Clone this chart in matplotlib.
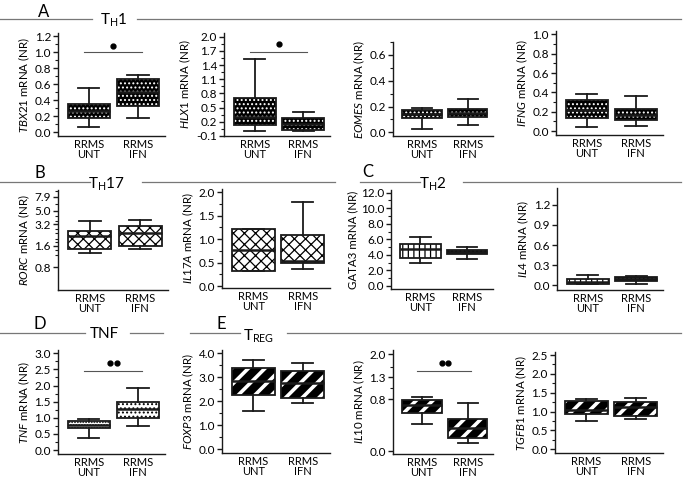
import numpy as np
import matplotlib
matplotlib.use('Agg')
import matplotlib.pyplot as plt
from matplotlib.lines import Line2D
from matplotlib.ticker import FixedLocator, FormatStrFormatter, NullFormatter

plt.rcParams['font.family'] = ['Lato', 'DejaVu Sans']
plt.rcParams['mathtext.fontset'] = 'custom'
plt.rcParams['mathtext.rm'] = 'Lato'
plt.rcParams['mathtext.it'] = 'Lato:italic'

W, H = 683, 479

groups = ['RRMS\nUNT', 'RRMS\nIFN']
genes = ['TBX21', 'HLX1', 'EOMES', 'IFNG', 'RORC', 'IL17A',
         'GATA3', 'IL4', 'TNF', 'FOXP3', 'IL10', 'TGFB1']

# [whisker low, Q1, median, Q3, whisker high]
TBX21_UNT = [0.06, 0.18, 0.26, 0.35, 0.55]
TBX21_IFN = [0.17, 0.33, 0.50, 0.66, 0.72]
HLX1_UNT = [0.01, 0.13, 0.30, 0.71, 1.54]
HLX1_IFN = [0.01, 0.03, 0.15, 0.29, 0.41]
EOMES_UNT = [0.03, 0.11, 0.14, 0.17, 0.19]
EOMES_IFN = [0.06, 0.12, 0.15, 0.18, 0.26]
IFNG_UNT = [0.04, 0.14, 0.22, 0.32, 0.38]
IFNG_IFN = [0.055, 0.12, 0.17, 0.23, 0.365]
RORC_UNT = [1.25, 1.45, 2.2, 2.6, 3.6]
RORC_IFN = [1.45, 1.6, 2.4, 3.0, 3.7]
IL17A_UNT = [0.33, 0.33, 0.78, 1.22, 1.22]
IL17A_IFN = [0.36, 0.50, 0.53, 1.09, 1.80]
GATA3_UNT = [3.0, 3.64, 4.8, 5.36, 6.26]
GATA3_IFN = [3.43, 4.07, 4.37, 4.63, 4.97]
IL4_UNT = [0.015, 0.025, 0.054, 0.089, 0.153]
IL4_IFN = [0.025, 0.064, 0.094, 0.123, 0.133]
TNF_UNT = [0.36, 0.67, 0.78, 0.91, 0.96]
TNF_IFN = [0.755, 1.01, 1.26, 1.50, 1.91]
FOXP3_UNT = [1.60, 2.26, 2.86, 3.40, 3.72]
FOXP3_IFN = [1.92, 2.125, 2.75, 3.26, 3.58]
IL10_UNT = [0.36, 0.54, 0.68, 0.78, 0.85]
IL10_IFN = [0.095, 0.16, 0.30, 0.44, 0.73]
TGFB1_UNT = [0.75, 0.93, 1.04, 1.29, 1.325]
TGFB1_IFN = [0.795, 0.89, 1.11, 1.26, 1.37]

DATA = {
    'TBX21': (TBX21_UNT, TBX21_IFN), 'HLX1': (HLX1_UNT, HLX1_IFN),
    'EOMES': (EOMES_UNT, EOMES_IFN), 'IFNG': (IFNG_UNT, IFNG_IFN),
    'RORC': (RORC_UNT, RORC_IFN), 'IL17A': (IL17A_UNT, IL17A_IFN),
    'GATA3': (GATA3_UNT, GATA3_IFN), 'IL4': (IL4_UNT, IL4_IFN),
    'TNF': (TNF_UNT, TNF_IFN), 'FOXP3': (FOXP3_UNT, FOXP3_IFN),
    'IL10': (IL10_UNT, IL10_IFN), 'TGFB1': (TGFB1_UNT, TGFB1_IFN),
}

# y tick labels
TBX21_TICKS = [0.0, 0.2, 0.4, 0.6, 0.8, 1.0, 1.2]
HLX1_TICKS = [-0.1, 0.2, 0.5, 0.8, 1.1, 1.4, 1.7, 2.0]
EOMES_TICKS = [0.0, 0.2, 0.4, 0.6]
IFNG_TICKS = [0.0, 0.2, 0.4, 0.6, 0.8, 1.0]
RORC_TICKS = [0.8, 1.6, 3.2, 5.0, 7.9]
IL17A_TICKS = [0.0, 0.5, 1.0, 1.5, 2.0]
GATA3_TICKS = [0.0, 2.0, 4.0, 6.0, 8.0, 10.0, 12.0]
IL4_TICKS = [0.0, 0.3, 0.6, 0.9, 1.2]
TNF_TICKS = [0.0, 0.5, 1.0, 1.5, 2.0, 2.5, 3.0]
FOXP3_TICKS = [0.0, 1.0, 2.0, 3.0, 4.0]
IL10_TICKS = [0.0, 0.8, 1.3, 2.0]
TGFB1_TICKS = [0.0, 0.5, 1.0, 1.5, 2.0, 2.5]

TICKS = {'TBX21': TBX21_TICKS, 'HLX1': HLX1_TICKS, 'EOMES': EOMES_TICKS,
         'IFNG': IFNG_TICKS, 'RORC': RORC_TICKS, 'IL17A': IL17A_TICKS,
         'GATA3': GATA3_TICKS, 'IL4': IL4_TICKS, 'TNF': TNF_TICKS,
         'FOXP3': FOXP3_TICKS, 'IL10': IL10_TICKS, 'TGFB1': TGFB1_TICKS}

MINOR = {
    'TBX21': np.arange(0.1, 1.25, 0.2), 'HLX1': np.arange(0.05, 2.0, 0.3),
    'EOMES': [0.1, 0.3, 0.5, 0.7], 'IFNG': np.arange(0.1, 1.0, 0.2),
    'RORC': [1.2, 1.4, 1.8, 2.0, 2.4, 2.8, 3.6, 4.2, 6.3, 9.5],
    'IL17A': [0.25, 0.75, 1.25, 1.75], 'GATA3': np.arange(1, 12, 2),
    'IL4': [], 'TNF': np.arange(0.25, 3.0, 0.5), 'FOXP3': np.arange(0.5, 4.0, 1.0),
    'IL10': [1.05, 1.6], 'TGFB1': np.arange(0.25, 2.5, 0.5),
}

# panel layout in pixels: x0, x1, ytop, ybottom, ylim
LAYOUT = {
    'TBX21': (58, 165, 33, 136, (-0.05, 1.24)),
    'HLX1': (224, 330, 33, 136, (-0.1, 2.08)),
    'EOMES': (393, 493, 42, 136, (-0.028, 0.70)),
    'IFNG': (556, 663, 31, 135, (-0.04, 1.034)),
    'RORC': (58, 168, 190, 290, (0.38, 9.8)),
    'IL17A': (222, 330, 189, 288, (-0.04, 2.07)),
    'GATA3': (391, 493, 190, 289, (-0.4, 12.35)),
    'IL4': (557, 663, 188, 290, (-0.07, 1.45)),
    'TNF': (58, 165, 350, 454, (-0.12, 3.1)),
    'FOXP3': (222, 330, 350, 453, (-0.15, 4.14)),
    'IL10': (393, 493, 350, 454, (-0.0334, 2.14)),
    'TGFB1': (555, 663, 352, 453, (-0.1, 2.58)),
}

# box styles: (face, hatch, hatch colour) for UNT, IFN
DOTS_B = ('black', '....', 'white')
STYLE = {
    'TBX21': (DOTS_B, DOTS_B), 'HLX1': (DOTS_B, DOTS_B),
    'EOMES': (DOTS_B, DOTS_B), 'IFNG': (DOTS_B, DOTS_B),
    'RORC': (('white', 'xxx', 'black'), ('white', 'xxx', 'black')),
    'IL17A': (('white', 'xxx', 'black'), ('white', 'xxx', 'black')),
    'GATA3': (('white', '|||', 'black'), ('#444444', '++++', 'black')),
    'IL4': (('white', '|||', 'black'), ('#444444', '++++', 'black')),
    'TNF': (('white', '......', 'black'), ('white', '....', 'black')),
    'FOXP3': (('black', '//', 'white'), ('black', '//', 'white')),
    'IL10': (('black', '//', 'white'), ('black', '//', 'white')),
    'TGFB1': (('black', '//', 'white'), ('black', '//', 'white')),
}

# significance: line y, dot y, number of dots
SIG = {'TBX21': (1.0, 1.08, 1), 'HLX1': (1.67, 1.84, 1),
       'TNF': (2.46, 2.69, 2), 'IL10': (1.48, 1.72, 2)}
SIG_X = (0.9, 2.08)

ITALIC = {g: True for g in genes}
ITALIC['GATA3'] = False

positions = [1, 2]
XLIM = (0.37, 2.55)
BOXW = 0.86

fig = plt.figure(figsize=(W / 100, H / 100), dpi=100)

for g in genes:
    x0, x1, yt, yb, ylim = LAYOUT[g]
    ax = fig.add_axes([x0 / W, 1 - yb / H, (x1 - x0) / W, (yb - yt) / H])
    if g == 'RORC':
        ax.set_yscale('log', base=2)
    elif g == 'IL10':
        ax.set_yscale('function', functions=(np.log1p, np.expm1))
    stats = []
    for vals, lab in zip(DATA[g], groups):
        lo, q1, med, q3, hi = vals
        stats.append(dict(whislo=lo, q1=q1, med=med, q3=q3, whishi=hi,
                          fliers=[], label=lab))
    # hatched fills
    for i, (st, sty) in enumerate(zip(stats, STYLE[g])):
        face, hatch, hcol = sty
        res = ax.bxp([st], positions=[positions[i]], widths=BOXW,
                     patch_artist=True, showcaps=False, showfliers=False,
                     boxprops=dict(facecolor=face, edgecolor=hcol, hatch=hatch,
                                   linewidth=0),
                     whiskerprops=dict(linewidth=0),
                     medianprops=dict(linewidth=0), manage_ticks=False)
        for b in res['boxes']:
            if hasattr(b, 'set_hatch_linewidth'):
                b.set_hatch_linewidth(2.6 if hatch == '//' else 0.9)
    # outlines, whiskers, caps, medians
    ax.bxp(stats, positions=positions, widths=BOXW, patch_artist=True,
           showfliers=False, capwidths=0.43,
           boxprops=dict(facecolor='none', edgecolor='#1a1a1a', linewidth=1.3),
           whiskerprops=dict(color='#1a1a1a', linewidth=1.3),
           capprops=dict(color='#1a1a1a', linewidth=1.3),
           medianprops=dict(color='#1a1a1a', linewidth=1.8))
    ax.set_xlim(*XLIM)
    ax.set_ylim(*ylim)
    ax.set_xticks(positions)
    ax.set_xticklabels(groups, fontsize=8, linespacing=0.95)
    ax.tick_params(axis='x', length=0, pad=2)
    ax.yaxis.set_major_locator(FixedLocator(TICKS[g]))
    ax.yaxis.set_major_formatter(FormatStrFormatter('%.1f'))
    ax.yaxis.set_minor_locator(FixedLocator(MINOR[g]))
    ax.yaxis.set_minor_formatter(NullFormatter())
    ax.tick_params(axis='y', which='major', length=3.5, width=1.0,
                   labelsize=8.5, pad=1.5, color='#1a1a1a')
    ax.tick_params(axis='y', which='minor', length=2, width=0.8, color='#1a1a1a')
    for s in ['top', 'right']:
        ax.spines[s].set_visible(False)
    for s in ['left', 'bottom']:
        ax.spines[s].set_linewidth(1.0)
        ax.spines[s].set_color('#1a1a1a')
    name = r'$\it{%s}$' % g if ITALIC[g] else g
    ax.set_ylabel(name + ' mRNA (NR)', fontsize=8.3, labelpad=2)
    if g in SIG:
        ly, dy, n = SIG[g]
        ax.plot(SIG_X, [ly, ly], color='#555555', lw=0.8)
        xs = [1.5] if n == 1 else [1.43, 1.57]
        ax.plot(xs, [dy] * n, 'o', color='black', ms=3.5)

# section headers: (letter, lx, ly, title, tx, ty, line segments, line y)
HEADERS = [
    ('A', 44, 12, r'$\mathregular{T_H}$1', 114, 20, [(0, 92), (137, 681)], 18.5),
    ('B', 40, 173, r'$\mathregular{T_H}$17', 106, 184, [(0, 90), (142, 335)], 182),
    ('C', 368, 172, r'$\mathregular{T_H}$2', 433, 184, [(360, 420), (463, 681)], 182),
    ('D', 40, 324, 'TNF', 104, 334, [(0, 85), (130, 163)], 333),
    ('E', 221, 324, r'$\mathregular{T_{REG}}$', 259, 336, [(190, 240), (287, 681)], 333),
]
for letter, lx, ly, title, tx, ty, segs, y in HEADERS:
    fig.text(lx / W, 1 - ly / H, letter, fontsize=12, ha='center', va='center')
    fig.text(tx / W, 1 - ty / H, title, fontsize=11, ha='center', va='center')
    for a, b in segs:
        fig.add_artist(Line2D([a / W, b / W], [1 - y / H, 1 - y / H],
                              color='#777777', lw=0.9, transform=fig.transFigure))

fig.savefig('out.png', dpi=100)
